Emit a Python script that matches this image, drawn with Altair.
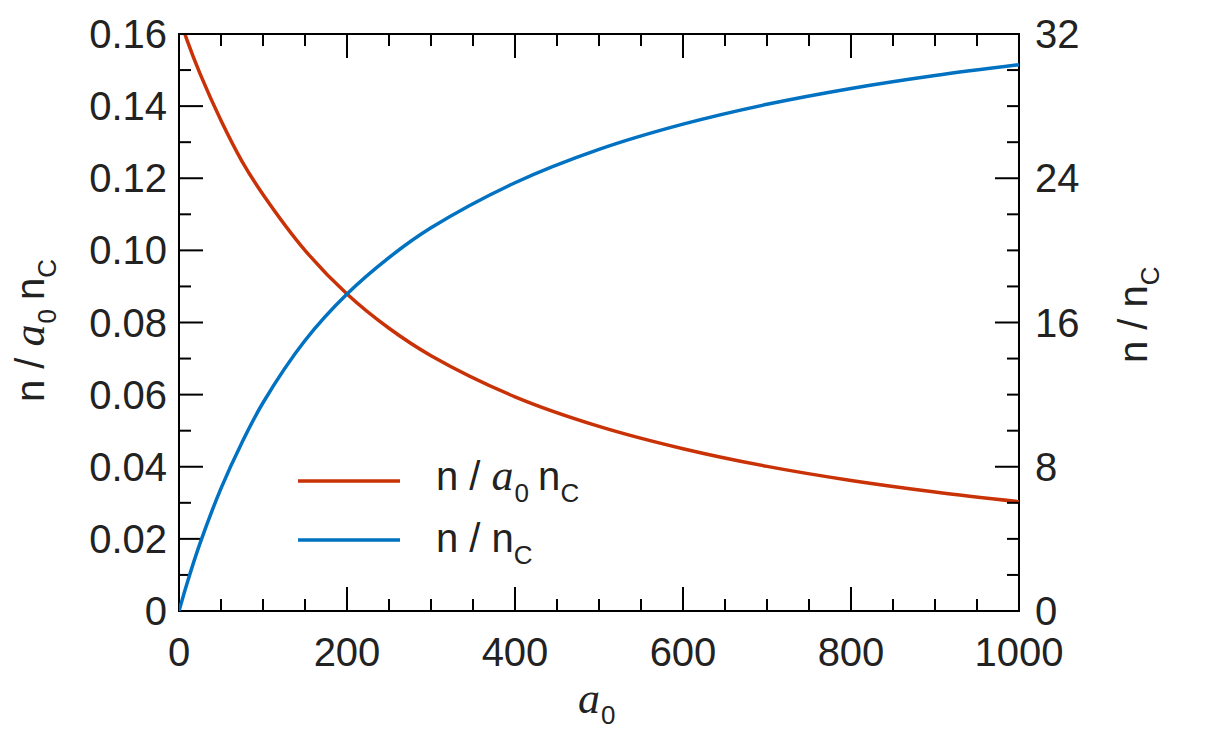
import altair as alt
import pandas as pd

# Curves read along a0
a0 = [0, 10, 25, 50, 75, 100, 150, 200, 250, 300, 400, 500, 600, 700, 800, 900, 1000]
n_over_a0_nc = [0.165, 0.158, 0.149, 0.136, 0.1247, 0.1155, 0.1000, 0.0879, 0.0784, 0.0708,
                0.0594, 0.0512, 0.0450, 0.0401, 0.0362, 0.0330, 0.0303]
n_over_nc = [0.0, 1.6, 3.75, 6.8, 9.35, 11.55, 15.0, 17.58, 19.6, 21.25,
             23.75, 25.6, 27.0, 28.1, 28.98, 29.7, 30.3]

# Tick positions and their labels
x_major = [0, 200, 400, 600, 800, 1000]
x_labels = ["0", "200", "400", "600", "800", "1000"]
x_minor = [v for v in range(0, 1001, 50) if v % 200 != 0]
left_major = [0, 0.02, 0.04, 0.06, 0.08, 0.10, 0.12, 0.14, 0.16]
left_labels = ["0", "0.02", "0.04", "0.06", "0.08", "0.10", "0.12", "0.14", "0.16"]
left_minor = [0.01, 0.03, 0.05, 0.07, 0.09, 0.11, 0.13, 0.15]
right_major = [0, 8, 16, 24, 32]
right_labels = ["0", "8", "16", "24", "32"]
right_minor = [v for v in range(0, 33, 2) if v % 8 != 0]

RED = "#C93206"
BLUE = "#0072C1"
INK = "#222222"
SANS = "Liberation Sans"
SERIF = "Liberation Serif"

W, H = 840, 577
MAJ, MIN = 24, 12

curves = pd.DataFrame({"a0": a0, "red": n_over_a0_nc, "blue": n_over_nc})

xscale = alt.Scale(domain=[0, 1000], nice=False)
lscale = alt.Scale(domain=[0, 0.16], nice=False)
rscale = alt.Scale(domain=[0, 32], nice=False)

red_line = alt.Chart(curves).mark_line(color=RED, strokeWidth=3.5, clip=True,
                                       interpolate="catmull-rom").encode(
    x=alt.X("a0:Q", scale=xscale, axis=None),
    y=alt.Y("red:Q", scale=lscale, axis=None),
)

blue_line = alt.Chart(curves).mark_line(color=BLUE, strokeWidth=3.5, clip=True,
                                        interpolate="catmull-rom").encode(
    x=alt.X("a0:Q", scale=xscale, axis=None),
    y=alt.Y("blue:Q", scale=rscale, axis=None),
)


def xticks(vals, length):
    df = pd.DataFrame({"a0": vals})
    bottom = alt.Chart(df).mark_rule(color="black", strokeWidth=2).encode(
        x=alt.X("a0:Q", scale=xscale, axis=None), y=alt.value(H), y2=alt.value(H - length))
    top = alt.Chart(df).mark_rule(color="black", strokeWidth=2).encode(
        x=alt.X("a0:Q", scale=xscale, axis=None), y=alt.value(0), y2=alt.value(length))
    return [bottom, top]


def yticks(vals, length, scale, right):
    df = pd.DataFrame({"v": vals})
    x0, x1 = (W, W - length) if right else (0, length)
    return alt.Chart(df).mark_rule(color="black", strokeWidth=2).encode(
        y=alt.Y("v:Q", scale=scale, axis=None), x=alt.value(x0), x2=alt.value(x1))


# tick labels
x_tick_text = alt.Chart(pd.DataFrame({"a0": x_major, "lab": x_labels})).mark_text(
    font=SANS, fontSize=40, color=INK, align="center", baseline="alphabetic").encode(
    x=alt.X("a0:Q", scale=xscale, axis=None), y=alt.value(H + 55), text="lab:N")

left_tick_text = alt.Chart(pd.DataFrame({"v": left_major, "lab": left_labels})).mark_text(
    font=SANS, fontSize=40, color=INK, align="right", baseline="alphabetic", dy=14).encode(
    y=alt.Y("v:Q", scale=lscale, axis=None), x=alt.value(-12), text="lab:N")

right_tick_text = alt.Chart(pd.DataFrame({"v": right_major, "lab": right_labels})).mark_text(
    font=SANS, fontSize=40, color=INK, align="left", baseline="alphabetic", dy=14).encode(
    y=alt.Y("v:Q", scale=rscale, axis=None), x=alt.value(W + 16), text="lab:N")


def label(txt, x, y, size=40, font=SANS, style="normal", angle=0, color=INK):
    return alt.Chart(pd.DataFrame({"t": [txt]})).mark_text(
        text=txt, font=font, fontSize=size, fontStyle=style, angle=angle,
        align="left", baseline="alphabetic", color=color,
    ).encode(x=alt.value(x), y=alt.value(y))


# legend samples
leg_red = alt.Chart(pd.DataFrame({"k": [0]})).mark_rule(color=RED, strokeWidth=3.5).encode(
    x=alt.value(119), x2=alt.value(221), y=alt.value(447))
leg_blue = alt.Chart(pd.DataFrame({"k": [0]})).mark_rule(color=BLUE, strokeWidth=3.5).encode(
    x=alt.value(119), x2=alt.value(221), y=alt.value(506))

texts = [
    # legend entry 1: n / a0 nC
    label("n /", 257, 456),
    label("a", 312.6, 456, size=44, font=SERIF, style="italic"),
    label("0", 335.6, 468, size=26),
    label("n", 359, 456),
    label("C", 381.5, 468, size=26),
    # legend entry 2: n / nC
    label("n / n", 257, 518),
    label("C", 334.8, 530, size=26),
    # x title
    label("a", 399, 679, size=44, font=SERIF, style="italic"),
    label("0", 422, 690, size=26),
    # left title (rotated)
    label("n /", -135, 368, angle=270),
    label("a", -135, 312.4, size=44, font=SERIF, style="italic", angle=270),
    label("0", -123, 289.4, size=26, angle=270),
    label("n", -135, 266, angle=270),
    label("C", -123, 243.8, size=26, angle=270),
    # right title (rotated)
    label("n / n", 968, 329, angle=270),
    label("C", 980, 251.2, size=26, angle=270),
]

left_group = alt.layer(
    red_line,
    yticks(left_major, MAJ, lscale, False),
    yticks(left_minor, MIN, lscale, False),
    left_tick_text,
    *xticks(x_major, MAJ), *xticks(x_minor, MIN),
    x_tick_text,
    leg_red, leg_blue, *texts,
)
right_group = alt.layer(
    blue_line,
    yticks(right_major, MAJ, rscale, True),
    yticks(right_minor, MIN, rscale, True),
    right_tick_text,
)

chart = alt.layer(left_group, right_group).resolve_scale(y="independent").properties(
    width=W, height=H, autosize="none",
    padding={"left": 179, "top": 34, "right": 194, "bottom": 121},
    background="white",
).configure_view(stroke="black", strokeWidth=2)

chart.save("out.html", embed_options={"renderer": "svg", "actions": False})
